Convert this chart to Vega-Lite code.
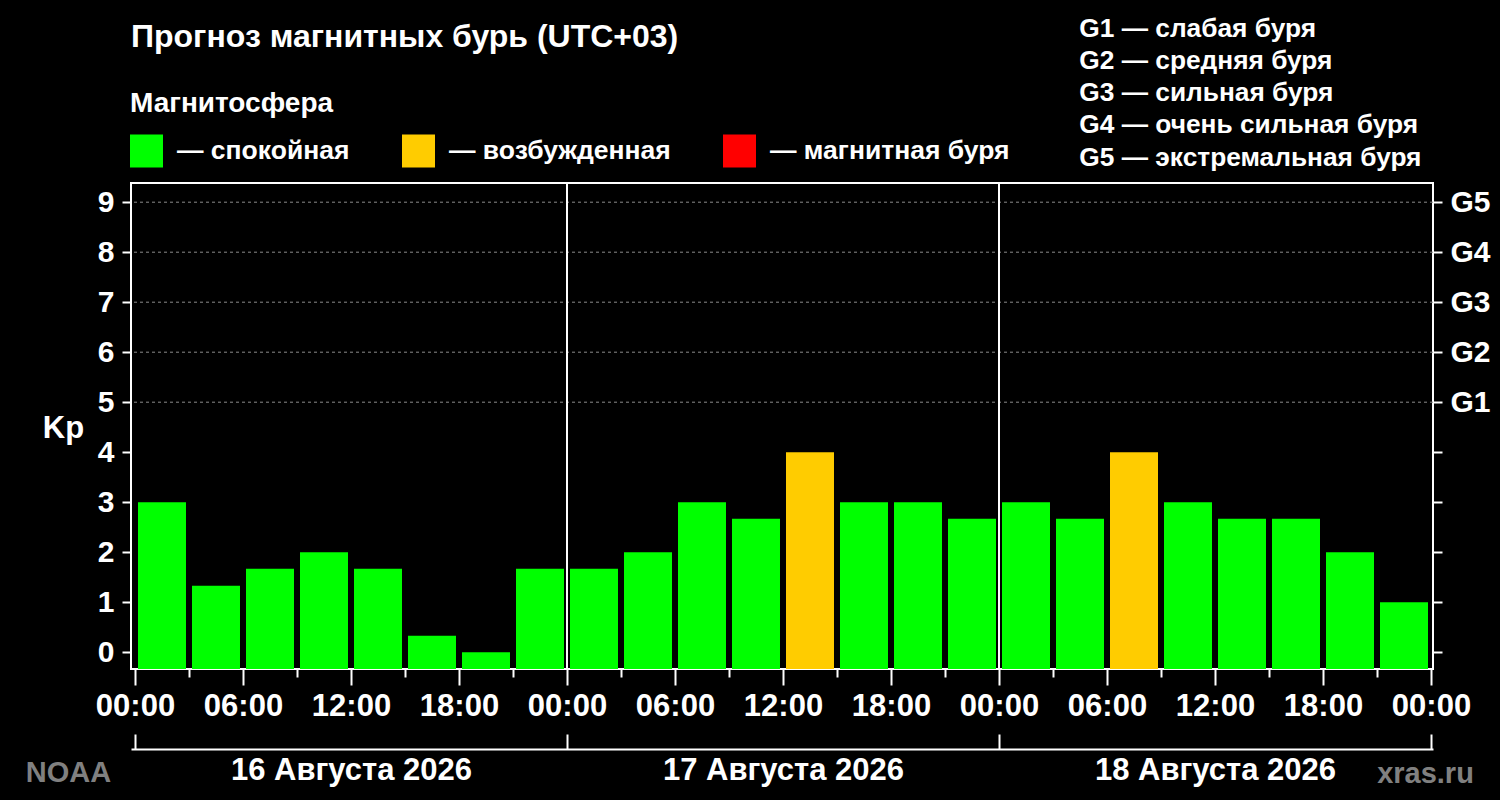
{
  "$schema": "https://vega.github.io/schema/vega-lite/v6.json",
  "width": 1302,
  "height": 486,
  "autosize": "none",
  "padding": {"left": 131, "top": 183, "right": 67, "bottom": 131},
  "background": "black",
  "title": {
    "text": "Прогноз магнитных бурь (UTC+03)",
    "anchor": "start",
    "frame": "group",
    "baseline": "alphabetic",
    "offset": -63,
    "color": "white",
    "font": "Liberation Sans",
    "fontSize": 32,
    "fontWeight": "bold"
  },
  "datasets": {
    "kp": [
      {"start": 0, "end": 3, "kp": 3, "state": "спокойная"},
      {"start": 3, "end": 6, "kp": 1.33, "state": "спокойная"},
      {"start": 6, "end": 9, "kp": 1.67, "state": "спокойная"},
      {"start": 9, "end": 12, "kp": 2, "state": "спокойная"},
      {"start": 12, "end": 15, "kp": 1.67, "state": "спокойная"},
      {"start": 15, "end": 18, "kp": 0.33, "state": "спокойная"},
      {"start": 18, "end": 21, "kp": 0, "state": "спокойная"},
      {"start": 21, "end": 24, "kp": 1.67, "state": "спокойная"},
      {"start": 24, "end": 27, "kp": 1.67, "state": "спокойная"},
      {"start": 27, "end": 30, "kp": 2, "state": "спокойная"},
      {"start": 30, "end": 33, "kp": 3, "state": "спокойная"},
      {"start": 33, "end": 36, "kp": 2.67, "state": "спокойная"},
      {"start": 36, "end": 39, "kp": 4, "state": "возбужденная"},
      {"start": 39, "end": 42, "kp": 3, "state": "спокойная"},
      {"start": 42, "end": 45, "kp": 3, "state": "спокойная"},
      {"start": 45, "end": 48, "kp": 2.67, "state": "спокойная"},
      {"start": 48, "end": 51, "kp": 3, "state": "спокойная"},
      {"start": 51, "end": 54, "kp": 2.67, "state": "спокойная"},
      {"start": 54, "end": 57, "kp": 4, "state": "возбужденная"},
      {"start": 57, "end": 60, "kp": 3, "state": "спокойная"},
      {"start": 60, "end": 63, "kp": 2.67, "state": "спокойная"},
      {"start": 63, "end": 66, "kp": 2.67, "state": "спокойная"},
      {"start": 66, "end": 69, "kp": 2, "state": "спокойная"},
      {"start": 69, "end": 72, "kp": 1, "state": "спокойная"}
    ],
    "levels": [
      {"kp": 5, "label": "G1 — слабая буря"},
      {"kp": 6, "label": "G2 — средняя буря"},
      {"kp": 7, "label": "G3 — сильная буря"},
      {"kp": 8, "label": "G4 — очень сильная буря"},
      {"kp": 9, "label": "G5 — экстремальная буря"}
    ],
    "boundaries": [
      {"hour": 24},
      {"hour": 48}
    ]
  },
  "layer": [
    {
      "data": {"name": "levels"},
      "mark": {"type": "rule", "color": "#8c8c8c", "strokeWidth": 1},
      "encoding": {
        "y": {
          "field": "kp",
          "type": "quantitative",
          "scale": {"domain": [-0.336, 9.384], "nice": false, "zero": false},
          "axis": {
            "orient": "right",
            "values": [0, 1, 2, 3, 4, 5, 6, 7, 8, 9],
            "domain": false,
            "grid": false,
            "tickSize": 9,
            "tickWidth": 2,
            "labelPadding": 8,
            "labelExpr": "datum.value >= 5 ? 'G' + (datum.value - 4) : ''",
            "title": null
          }
        },
        "strokeDash": {
          "field": "label",
          "type": "nominal",
          "sort": {"field": "kp"},
          "scale": {"range": [[3, 3], [3, 3], [3, 3], [3, 3], [3, 3]]},
          "legend": {
            "orient": "none",
            "legendX": 922,
            "legendY": -167,
            "direction": "vertical",
            "title": null,
            "padding": 0,
            "symbolSize": 0,
            "symbolOpacity": 0,
            "symbolStrokeWidth": 0,
            "labelOffset": 0,
            "labelFontSize": 26.3,
            "labelLimit": 0,
            "rowPadding": 5.1
          }
        }
      }
    },
    {
      "data": {"name": "kp"},
      "mark": {"type": "bar", "xOffset": 3, "x2Offset": -3},
      "encoding": {
        "x": {
          "field": "start",
          "type": "quantitative",
          "scale": {"domain": [-0.222, 72.111], "nice": false, "zero": false},
          "axis": {
            "orient": "bottom",
            "values": [0, 3, 6, 9, 12, 15, 18, 21, 24, 27, 30, 33, 36, 39, 42, 45, 48, 51, 54, 57, 60, 63, 66, 69, 72],
            "domain": false,
            "grid": false,
            "tickWidth": 2,
            "tickSize": {"condition": {"test": "datum.value % 6 === 0", "value": 16}, "value": 8},
            "labelExpr": "datum.value % 6 === 0 ? ((datum.value % 24) < 10 ? '0' : '') + (datum.value % 24) + ':00' : ''",
            "labelFontSize": 31,
            "labelPadding": 6,
            "labelOverlap": false,
            "labelFlush": false,
            "title": "NOAA",
            "titleColor": "#808080",
            "titleFontSize": 29,
            "titleAngle": 0,
            "titleAlign": "center",
            "titleBaseline": "alphabetic",
            "titleX": -63,
            "titleY": 112
          }
        },
        "x2": {"field": "end"},
        "y": {
          "field": "kp",
          "type": "quantitative",
          "scale": {"domain": [-0.336, 9.384], "nice": false, "zero": false},
          "axis": {
            "orient": "left",
            "values": [0, 1, 2, 3, 4, 5, 6, 7, 8, 9],
            "domain": false,
            "grid": false,
            "tickSize": 9,
            "tickWidth": 2,
            "labelPadding": 8,
            "title": "Kp",
            "titleAngle": 0,
            "titleAlign": "center",
            "titleBaseline": "alphabetic",
            "titleX": -68,
            "titleY": 254,
            "titleFontSize": 31
          }
        },
        "y2": {"datum": -0.336},
        "color": {
          "field": "state",
          "type": "nominal",
          "scale": {
            "domain": ["спокойная", "возбужденная", "магнитная буря"],
            "range": ["#00ff00", "#ffcc00", "#ff0000"]
          },
          "legend": {
            "orient": "none",
            "legendX": -1,
            "legendY": -93.5,
            "direction": "horizontal",
            "padding": 0,
            "title": "Магнитосфера",
            "titleFontSize": 28,
            "titleLimit": 0,
            "titlePadding": 17,
            "symbolType": "square",
            "symbolSize": 1089,
            "symbolStrokeWidth": 0,
            "symbolOpacity": 1,
            "labelExpr": "'— ' + datum.label",
            "labelFontSize": 26.5,
            "labelOffset": 14,
            "labelLimit": 0,
            "columnPadding": 52
          }
        }
      }
    },
    {
      "data": {"name": "boundaries"},
      "mark": {"type": "rule", "color": "white", "strokeWidth": 2},
      "encoding": {
        "x": {
          "field": "hour",
          "type": "quantitative",
          "scale": {"domain": [-0.222, 72.111], "nice": false, "zero": false},
          "axis": {
            "orient": "bottom",
            "offset": 80,
            "values": [0, 12, 24, 36, 48, 60, 72],
            "domain": true,
            "domainWidth": 2,
            "grid": false,
            "tickWidth": 2,
            "tickSize": {"condition": {"test": "datum.value % 24 === 0", "value": -15}, "value": 0},
            "labelExpr": "datum.value === 12 ? '16 Августа 2026' : datum.value === 36 ? '17 Августа 2026' : datum.value === 60 ? '18 Августа 2026' : ''",
            "labelFontSize": 31,
            "labelLimit": 0,
            "labelPadding": 6,
            "labelOverlap": false,
            "labelFlush": false,
            "title": "xras.ru",
            "titleColor": "#808080",
            "titleFontSize": 29,
            "titleAngle": 0,
            "titleAlign": "center",
            "titleBaseline": "alphabetic",
            "titleX": 1294,
            "titleY": 33
          }
        }
      }
    }
  ],
  "resolve": {
    "scale": {"x": "shared", "y": "shared"},
    "axis": {"x": "independent", "y": "independent"}
  },
  "config": {
    "font": "Liberation Sans",
    "view": {"stroke": "white", "strokeWidth": 2},
    "axis": {
      "labelColor": "white",
      "labelFont": "Liberation Sans",
      "labelFontWeight": "bold",
      "labelFontSize": 30,
      "tickColor": "white",
      "domainColor": "white",
      "titleColor": "white",
      "titleFont": "Liberation Sans",
      "titleFontWeight": "bold"
    },
    "legend": {
      "labelColor": "white",
      "labelFont": "Liberation Sans",
      "labelFontWeight": "bold",
      "titleColor": "white",
      "titleFont": "Liberation Sans",
      "titleFontWeight": "bold"
    }
  }
}
